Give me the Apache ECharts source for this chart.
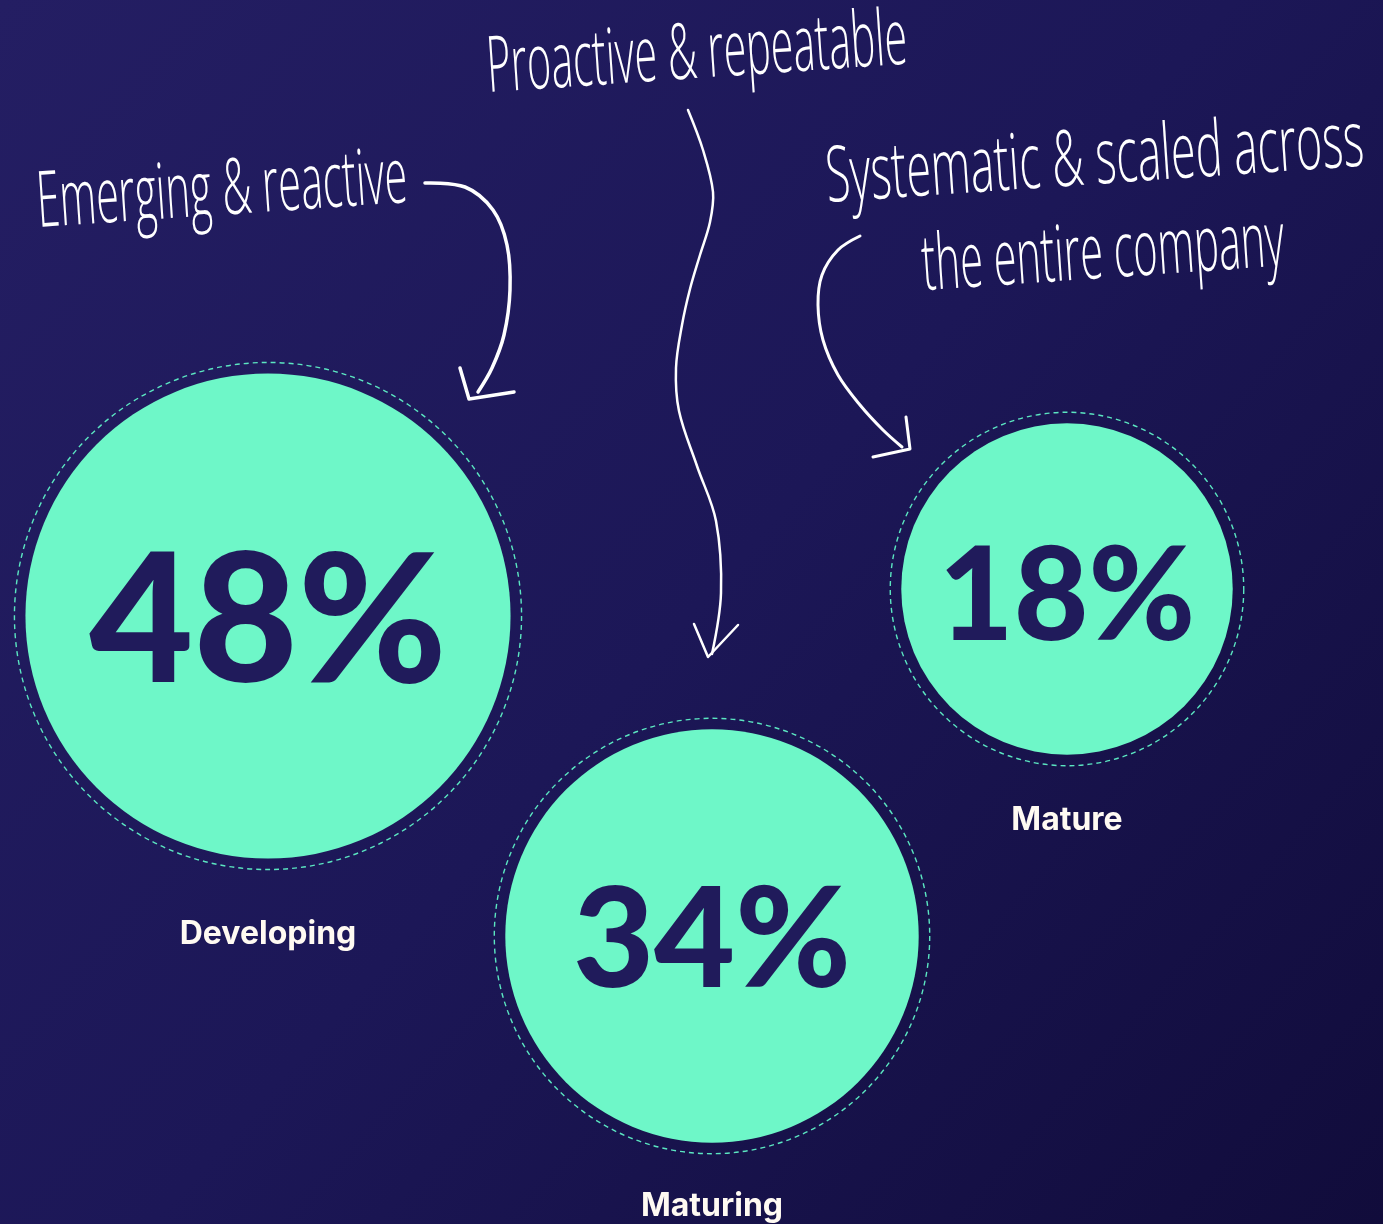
<!DOCTYPE html>
<html>
<head>
<meta charset="utf-8">
<style>
  html, body { margin: 0; padding: 0; background: #1b1654; }
  #chart { width: 1383px; height: 1224px; }
</style>
<script src="https://cdn.jsdelivr.net/npm/echarts@6/dist/echarts.min.js"></script>
</head>
<body>
<div id="chart"></div>
<script>
// ---- data ----
const categories = ['Developing', 'Maturing', 'Mature'];
const shares = [48, 34, 18];
const annotations = ['Emerging & reactive', 'Proactive & repeatable', 'Systematic & scaled across', 'the entire company'];

// ---- layout (pixel canvas positions, not data) ----
const bubbleX = [268, 712, 1067];
const bubbleY = [616, 936, 589];
const pctFontSize = [180, 140, 129];
const pctShift = [0.045, 0.045, 0.07];
const nameGap = [48, 36, 38];
const annoX = [37, 487, 826, 922];
const annoY = [205, 70, 180, 268];
const annoW = [371, 421, 539, 363];

const W = 1383, H = 1224;
function diameter(v) { return 239.3 + 5.121 * v; }

const ANNO_FONT = '300 74px "Open Sans"';
const measureCtx = document.createElement('canvas').getContext('2d');
measureCtx.font = ANNO_FONT;

const points = categories.map((c, i) => ({
  name: c,
  value: [bubbleX[i], bubbleY[i], shares[i]]
}));

const graphics = [];
annotations.forEach((t, i) => {
  const w = measureCtx.measureText(t).width;
  graphics.push({
    type: 'text', x: annoX[i], y: annoY[i], rotation: 0.068,
    scaleX: annoW[i] / w, scaleY: 1.05, silent: true, z: 10,
    style: { text: t, font: ANNO_FONT, fill: '#ffffff', align: 'left', verticalAlign: 'middle' }
  });
});
const arrows = [
  { w: 3.5, pts: [[425,183],[465,187],[493,210],[507,245],[510,290],[504,335],[492,368],[478,392]],
    head: [[460,368],[469,399],[514,392]] },
  { w: 2.5, pts: [[688,110],[703,150],[713,192],[710,222],[700,255],[690,289],[682,325],[676,368],[679,411],[697,466],[716,521],[721,593],[712,654]],
    head: [[694,624],[708,657],[738,625]] },
  { w: 3, pts: [[860,236],[838,250],[822,275],[818,305],[823,340],[838,375],[860,405],[883,430],[902,447]],
    head: [[906,417],[910,449],[873,457]] }
];
arrows.forEach(a => {
  graphics.push({ type: 'polyline', silent: true, z: 10,
    shape: { points: a.pts, smooth: 0.35 },
    style: { stroke: '#ffffff', lineWidth: a.w, fill: null, lineCap: 'round', lineJoin: 'round' } });
  graphics.push({ type: 'polyline', silent: true, z: 10,
    shape: { points: a.head },
    style: { stroke: '#ffffff', lineWidth: a.w, fill: null, lineCap: 'round', lineJoin: 'round' } });
});

const chart = echarts.init(document.getElementById('chart'), null, { renderer: 'canvas' });
chart.setOption({
  animation: false,
  backgroundColor: {
    type: 'linear', x: 0, y: 0, x2: 1, y2: 1,
    colorStops: [
      { offset: 0, color: '#241e63' },
      { offset: 0.5, color: '#1c1757' },
      { offset: 1, color: '#110c3b' }
    ]
  },
  grid: { left: 0, right: 0, top: 0, bottom: 0 },
  xAxis: { type: 'value', min: 0, max: W, show: false },
  yAxis: { type: 'value', min: 0, max: H, inverse: true, show: false },
  graphic: graphics,
  series: [
    {
      type: 'scatter', silent: true, z: 2,
      symbol: 'circle',
      symbolSize: v => diameter(v[2]) + 22,
      itemStyle: { color: 'rgba(0,0,0,0)', opacity: 1, borderColor: '#5be6c1', borderWidth: 1.4, borderType: [5, 4] },
      label: {
        show: true, position: 'bottom', opacity: 1,
        formatter: p => p.name,
        color: '#fffaf2', fontFamily: 'Inter', fontWeight: 700, fontSize: 32
      },
      data: points.map((p, i) => ({ ...p, label: { distance: nameGap[i] } }))
    },
    {
      type: 'scatter', silent: true, z: 3,
      symbol: 'circle',
      symbolSize: v => diameter(v[2]),
      itemStyle: { color: '#6ef7c8', opacity: 1 },
      label: {
        show: true, position: 'inside', opacity: 1,
        formatter: p => p.value[2] + '%',
        color: '#201b5b', fontFamily: 'Lato', fontWeight: 900
      },
      data: points.map((p, i) => ({ ...p, label: { fontSize: pctFontSize[i], offset: [0, Math.round(pctFontSize[i] * pctShift[i])] } }))
    }
  ]
});
</script>
</body>
</html>
